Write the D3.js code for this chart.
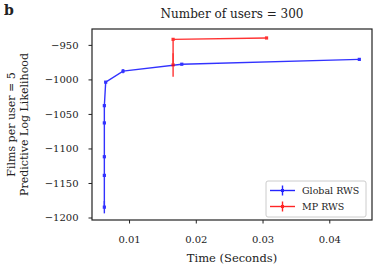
<!DOCTYPE html>
<html><head><meta charset="utf-8">
<script src="https://cdn.jsdelivr.net/npm/d3@7"></script>
<style>body{margin:0;background:#fff}svg{display:block}</style>
</head><body><svg id="c" width="374" height="270"></svg>
<script>
const globalX = [0.0063, 0.0063, 0.0063, 0.0063, 0.0063, 0.0065, 0.0091, 0.0179, 0.0445];
const globalY = [-1185, -1139, -1112, -1063, -1038, -1004, -988, -978, -971];
const globalErr = [9, 1.5, 1.5, 1.5, 1.5, 1.5, 3, 1.5, 1.5];
const mpX = [0.0166, 0.0166, 0.0306];
const mpY = [-979, -942, -940];
const mpErr = [17, 1.5, 1.5];
const xTicks = [0.01, 0.02, 0.03, 0.04];
const yTicks = [-950, -1000, -1050, -1100, -1150, -1200];
const seriesNames = ["Global RWS", "MP RWS"];
const seriesColors = ["#0000ff", "#ff0000"];

const FONT = "'DejaVu Serif', serif";
const svg = d3.select("#c");
const L = 92, R = 372, T = 29, B = 220;
const x = d3.scaleLinear().domain([0.00445, 0.0464]).range([L, R]);
const y = d3.scaleLinear().domain([-1203.6, -927]).range([B, T]);

const fmt = d => String(d).replace("-", "\u2212");
const xa = svg.append("g").attr("transform", `translate(0,${B})`)
  .call(d3.axisBottom(x).tickValues(xTicks).tickSize(3.5).tickPadding(12.5).tickFormat(d => d.toFixed(2)));
const ya = svg.append("g").attr("transform", `translate(${L},0)`)
  .call(d3.axisLeft(y).tickValues(yTicks).tickSize(3.5).tickPadding(10).tickFormat(fmt));
[xa, ya].forEach(a => {
  a.attr("font-family", null).attr("font-size", null);
  a.select(".domain").remove();
  a.selectAll("line").attr("stroke", "#222").attr("stroke-width", 1);
  a.selectAll("text").style("font-size", "10px").style("font-family", FONT).attr("fill", "#222");
});

const series = [
  {xs: globalX, ys: globalY, es: globalErr, c: seriesColors[0]},
  {xs: mpX, ys: mpY, es: mpErr, c: seriesColors[1]}
];
series.forEach(s => {
  const pts = s.xs.map((v, i) => [v, s.ys[i], s.es[i]]);
  const g = svg.append("g").attr("opacity", 0.8);
  g.append("path").datum(pts)
    .attr("d", d3.line().x(d => x(d[0])).y(d => y(d[1])))
    .attr("fill", "none").attr("stroke", s.c).attr("stroke-width", 1.4);
  g.selectAll("line.err").data(pts).enter().append("line")
    .attr("x1", d => x(d[0])).attr("x2", d => x(d[0]))
    .attr("y1", d => y(d[1] - d[2])).attr("y2", d => y(d[1] + d[2]))
    .attr("stroke", s.c).attr("stroke-width", 1.4);
  g.selectAll("rect").data(pts).enter().append("rect")
    .attr("x", d => x(d[0]) - 1.6).attr("y", d => y(d[1]) - 1.6)
    .attr("width", 3.2).attr("height", 3.2).attr("fill", s.c);
});

svg.append("rect").attr("x", L).attr("y", T).attr("width", R - L).attr("height", B - T)
  .attr("fill", "none").attr("stroke", "#222").attr("stroke-width", 1.2);

function txt(xx, yy, s, size, anchor) {
  return svg.append("text").attr("x", xx).attr("y", yy).attr("text-anchor", anchor || "start")
    .style("font-family", FONT).style("font-size", size + "px").attr("fill", "#222").text(s);
}

// legend
const lg = svg.append("g");
lg.append("rect").attr("x", 266).attr("y", 181).attr("width", 100).attr("height", 36).attr("rx", 2)
  .attr("fill", "#fff").attr("fill-opacity", 0.8).attr("stroke", "#ccc").attr("stroke-width", 1);
seriesNames.forEach((n, i) => {
  const yy = 190.5 + i * 16;
  const g = lg.append("g").attr("opacity", 0.85);
  g.append("line").attr("x1", 270).attr("x2", 295).attr("y1", yy).attr("y2", yy).attr("stroke", seriesColors[i]).attr("stroke-width", 1.4);
  g.append("line").attr("x1", 282.5).attr("x2", 282.5).attr("y1", yy - 5).attr("y2", yy + 5).attr("stroke", seriesColors[i]).attr("stroke-width", 1.4);
  g.append("rect").attr("x", 281).attr("y", yy - 1.5).attr("width", 3).attr("height", 3).attr("fill", seriesColors[i]);
  txt(302, yy + 3.5, n, 9.5);
});

txt(232, 18, "Number of users = 300", 12, "middle");
txt(232, 262, "Time (Seconds)", 11.5, "middle");
txt(0, 0, "Films per user = 5", 11, "middle").attr("transform", "translate(15,124.5) rotate(-90)");
txt(0, 0, "Predictive Log Likelihood", 11, "middle").attr("transform", "translate(28,124.5) rotate(-90)");
txt(4, 15, "b", 14).style("font-weight", "bold");
</script></body></html>
